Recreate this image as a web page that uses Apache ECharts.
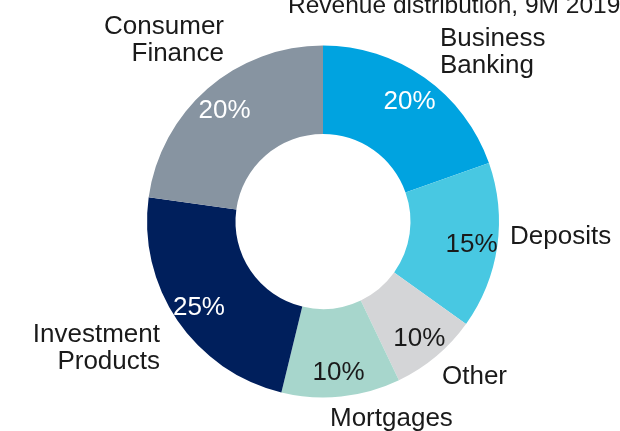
<!DOCTYPE html>
<html>
<head>
<meta charset="utf-8">
<script src="https://cdn.jsdelivr.net/npm/echarts@6/dist/echarts.min.js"></script>
<style>
  html, body { margin: 0; padding: 0; background: #fff; }
  #chart { width: 620px; height: 431px; }
</style>
</head>
<body>
<div id="chart"></div>
<script>
const categories = ["Business\nBanking", "Deposits", "Other", "Mortgages", "Investment\nProducts", "Consumer\nFinance"];
const shares = [19.6, 15.3, 8.0, 10.9, 23.4, 22.8];
const shareLabels = ["20%", "15%", "10%", "10%", "25%", "20%"];

const colors = ["#00a3e0", "#48c8e2", "#d4d5d7", "#a7d6cc", "#001f5c", "#8794a1"];
const innerTextColors = ["#fff", "#1a1a1a", "#1a1a1a", "#1a1a1a", "#fff", "#fff"];
// where each category name sits
const namePos = [
  { x: 440, y: 52, align: "left" },
  { x: 510, y: 237, align: "left" },
  { x: 442, y: 377, align: "left" },
  { x: 330, y: 419, align: "left" },
  { x: 160, y: 348, align: "right" },
  { x: 224, y: 40, align: "right" },
];

const font = "Liberation Sans";
var chart = echarts.init(document.getElementById("chart"), null, { renderer: "canvas" });

var option = {
  animation: false,
  graphic: [
    {
      type: "text",
      left: 288,
      top: -6,
      style: {
        text: "Revenue distribution, 9M 2019",
        font: "24.5px " + font,
        fill: "#1a1a1a",
      },
    },
  ],
  series: [
    {
      type: "pie",
      center: [323, 221.5],
      radius: [87.5, 176],
      startAngle: 90,
      avoidLabelOverlap: false,
      silent: true,
      itemStyle: { borderWidth: 0 },
      label: {
        show: true,
        position: "outside",
        formatter: (p) => p.name,
        fontFamily: font,
        fontSize: 26,
        lineHeight: 27,
        color: "#1a1a1a",
      },
      labelLine: { show: false },
      labelLayout: function(params) {
        var pos = namePos[params.dataIndex];
        return { x: pos.x, y: pos.y, align: pos.align, verticalAlign: "middle" };
      },
      data: categories.map((c, i) => ({
        name: c,
        value: shares[i],
        itemStyle: { color: colors[i] },
      })),
    },
    {
      // labels with the rounded shares
      type: "pie",
      center: [323, 224],
      radius: [118, 176],
      startAngle: 90,
      silent: true,
      itemStyle: { color: "transparent", borderWidth: 0 },
      label: {
        show: true,
        position: "inside",
        fontFamily: font,
        fontSize: 26,
        formatter: (p) => shareLabels[p.dataIndex],
      },
      labelLine: { show: false },
      data: categories.map((c, i) => ({
        name: c,
        value: shares[i],
        label: { color: innerTextColors[i] },
      })),
    },
  ],
};

chart.setOption(option);
</script>
</body>
</html>
